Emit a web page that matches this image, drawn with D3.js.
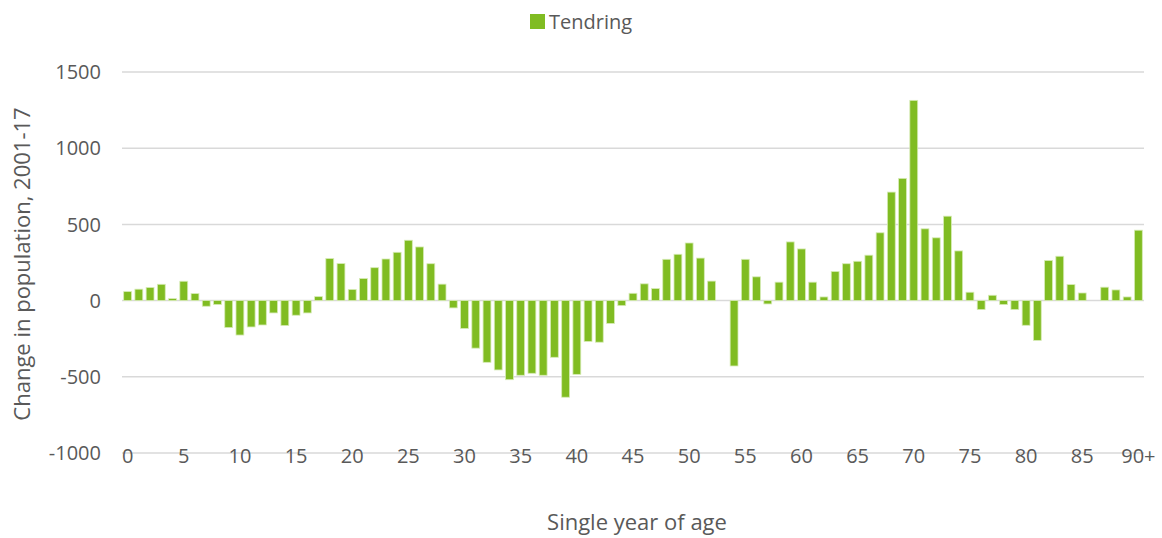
<!DOCTYPE html>
<html>
<head>
<meta charset="utf-8">
<script src="https://cdn.jsdelivr.net/npm/d3@7"></script>
<style>
  body { margin: 0; background: #fff; }
  text { font-family: "Open Sans", "Noto Sans", sans-serif; fill: #595959; }
</style>
</head>
<body>
<svg id="chart" width="1162" height="538"></svg>
<script>
// ages 0..90+ and change in population 2001-17 (Tendring)
var ages = d3.range(0, 90).map(String).concat(["90+"]);
var changes = [
    59, 75, 86, 107, 13, 127, 46, -37, -26, -177,
    -226, -173, -160, -81, -164, -96, -81, 26, 276, 243,
    73, 145, 216, 273, 317, 396, 352, 242, 108, -48,
    -183, -312, -405, -455, -519, -490, -477, -490, -372, -634,
    -484, -268, -273, -150, -33, 48, 110, 79, 271, 304,
    378, 279, 128, 0, -429, 271, 156, -22, 121, 385,
    339, 121, 24, 191, 242, 258, 298, 445, 712, 802,
    1314, 471, 412, 554, 326, 55, -59, 35, -26, -59,
    -162, -261, 263, 291, 105, 50, 0, 88, 70, 24,
    462
];
var yTicks = [-1000, -500, 0, 500, 1000, 1500];
var seriesName = "Tendring";

var svg = d3.select("#chart");
var margin = {left: 122, right: 18, top: 72, bottom: 85};
var width = 1162 - margin.left - margin.right;
var height = 538 - margin.top - margin.bottom;
var barColor = "#80bc22";

var x = d3.scaleBand().domain(ages).range([0, width]).paddingInner(0.3).paddingOuter(0.15);
var y = d3.scaleLinear().domain([-1000, 1500]).range([height, 0]);

var g = svg.append("g").attr("transform", "translate(" + margin.left + "," + margin.top + ")");

// gridlines
g.append("g").selectAll("line")
    .data(yTicks)
    .enter().append("line")
    .attr("x1", 0).attr("x2", width)
    .attr("y1", d => y(d)).attr("y2", d => y(d))
    .attr("stroke", "#d9d9d9").attr("stroke-width", 1.5);

// y labels
g.append("g").selectAll("text")
    .data(yTicks)
    .enter().append("text")
    .attr("x", -21).attr("y", d => y(d))
    .attr("dy", "0.36em")
    .attr("text-anchor", "end")
    .style("font-size", "20px")
    .text(d => d);

// bars
g.append("g").selectAll("rect")
    .data(changes)
    .enter().append("rect")
    .attr("x", (d, i) => x(ages[i]))
    .attr("width", x.bandwidth())
    .attr("y", d => y(Math.max(0, d)))
    .attr("height", d => Math.abs(y(d) - y(0)))
    .attr("fill", barColor)
    .attr("stroke", "#d6ebb5").attr("stroke-width", 0.8);

// x labels every 5
g.append("g").selectAll("text")
    .data(ages.filter((a, i) => i % 5 == 0 || a == "90+"))
    .enter().append("text")
    .attr("x", d => x(d) + x.bandwidth() / 2)
    .attr("y", height + 10)
    .attr("dy", "0")
    .attr("text-anchor", "middle")
    .style("font-size", "20px")
    .text(d => d);

// axis titles
svg.append("text")
    .attr("x", 637)
    .attr("y", 530)
    .attr("text-anchor", "middle")
    .style("font-size", "22px")
    .text("Single year of age");

svg.append("text")
    .attr("transform", "translate(30,264) rotate(-90)")
    .attr("text-anchor", "middle")
    .style("font-size", "22px")
    .text("Change in population, 2001-17");

// legend
var lg = svg.append("g").attr("transform", "translate(530,14)");
lg.append("rect").attr("width", 15).attr("height", 15).attr("fill", barColor);
lg.append("text").attr("x", 19).attr("y", 15)
    .style("font-size", "20px").text(seriesName);
</script>
</body>
</html>
